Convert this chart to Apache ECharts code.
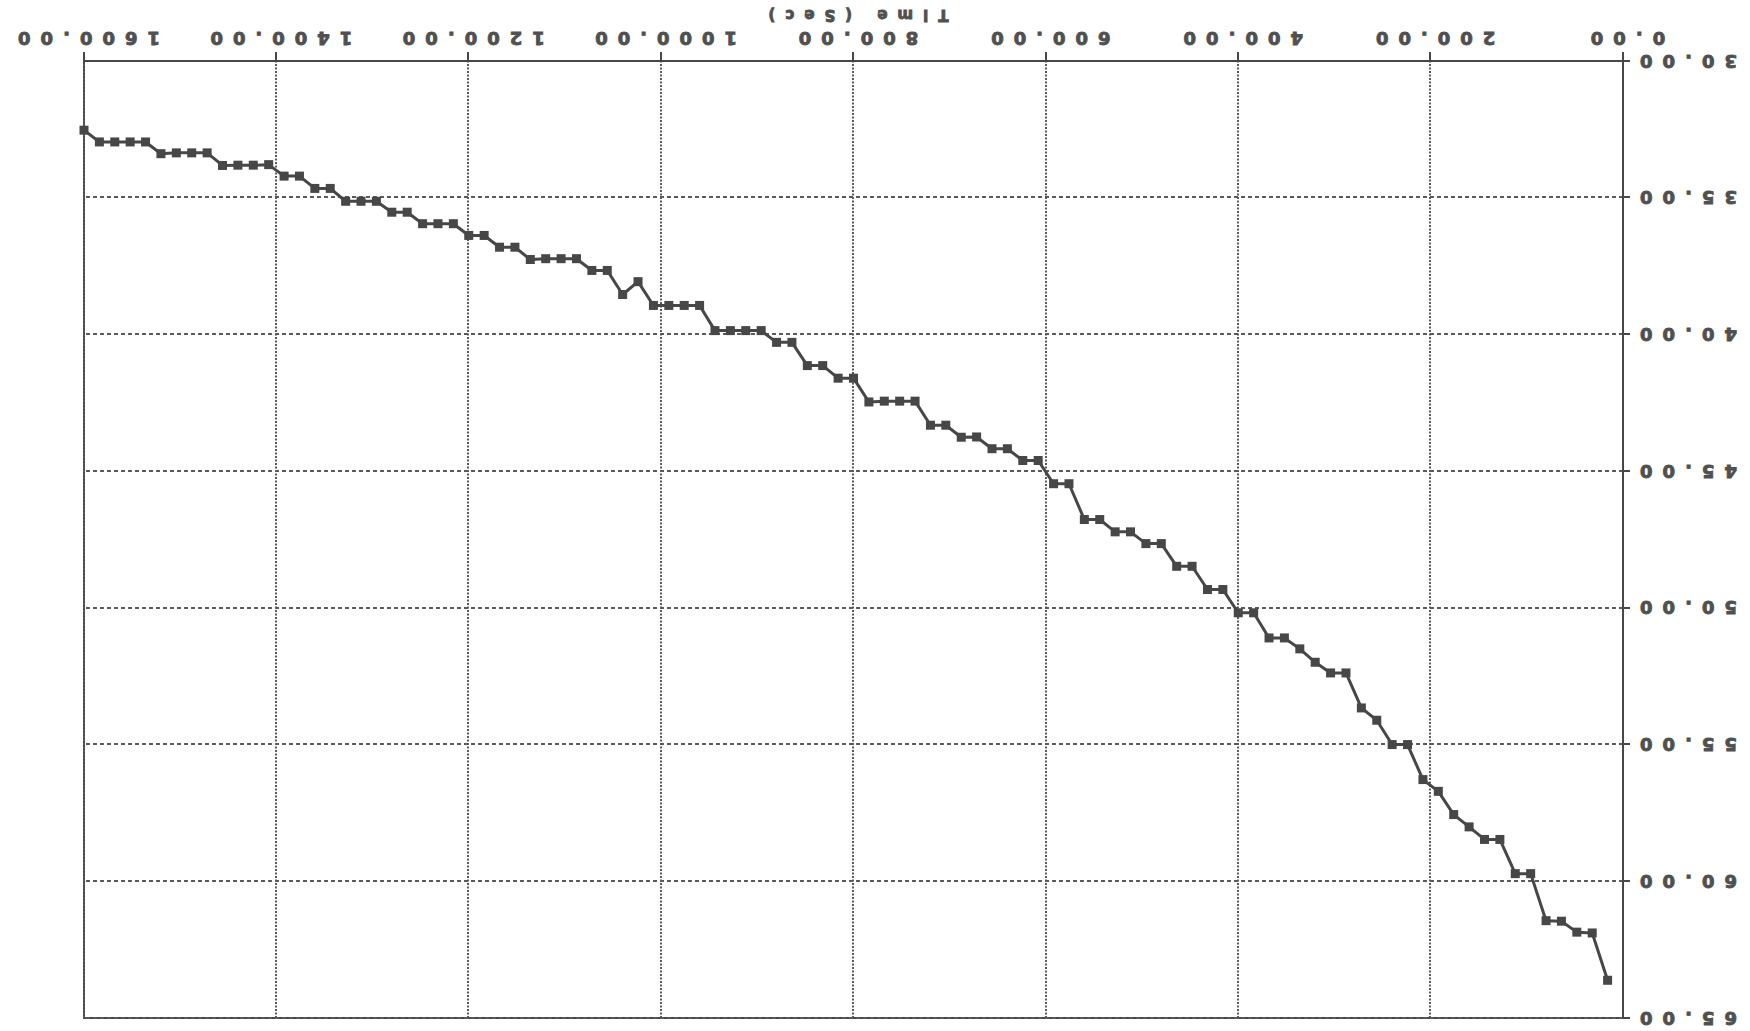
<!DOCTYPE html>
<html>
<head>
<meta charset="utf-8">
<title>Cooling curve</title>
<script src="https://cdn.jsdelivr.net/npm/echarts@6/dist/echarts.min.js"></script>
<style>
  html, body { margin: 0; padding: 0; background: #ffffff; overflow: hidden; }
  #chart {
    width: 1750px;
    height: 1031px;
    transform: rotate(180deg);
    transform-origin: 50% 50%;
  }
  /* wide, heavy, spaced-out lettering of the printed plot */
  #chart text {
    font-family: 'DejaVu Sans', sans-serif !important;
    font-weight: bold !important;
    letter-spacing: 10px;
    stroke: #505050;
    stroke-width: 0.9px;
  }
</style>
</head>
<body>
<div id="chart"></div>
<script>
// Sample times (s) and recorded temperatures
const timeSec = [
  16, 32, 48, 64, 80, 96, 112, 128, 144, 160,
  176, 192, 208, 224, 240, 256, 272, 288, 304, 320,
  336, 352, 368, 384, 400, 416, 432, 448, 464, 480,
  496, 512, 528, 544, 560, 576, 592, 608, 624, 640,
  656, 672, 688, 704, 720, 736, 752, 768, 784, 800,
  816, 832, 848, 864, 880, 896, 912, 928, 944, 960,
  976, 992, 1008, 1024, 1040, 1056, 1072, 1088, 1104, 1120,
  1136, 1152, 1168, 1184, 1200, 1216, 1232, 1248, 1264, 1280,
  1296, 1312, 1328, 1344, 1360, 1376, 1392, 1408, 1424, 1440,
  1456, 1472, 1488, 1504, 1520, 1536, 1552, 1568, 1584, 1600
];
const temperature = [
  63.62, 61.89, 61.86, 61.46, 61.44, 59.72, 59.72, 58.47, 58.47, 58.01,
  57.56, 56.71, 56.28, 55.00, 55.00, 54.11, 53.66, 52.38, 52.38, 51.99,
  51.50, 51.10, 51.10, 50.18, 50.18, 49.33, 49.33, 48.48, 48.48, 47.65,
  47.65, 47.22, 47.22, 46.77, 46.77, 45.46, 45.46, 44.61, 44.61, 44.18,
  44.18, 43.75, 43.76, 43.32, 43.32, 42.44, 42.44, 42.44, 42.47, 41.60,
  41.60, 41.14, 41.14, 40.29, 40.29, 39.86, 39.86, 39.86, 39.86, 38.94,
  38.94, 38.94, 38.94, 38.07, 38.54, 37.66, 37.66, 37.23, 37.23, 37.23,
  37.26, 36.81, 36.81, 36.38, 36.38, 35.95, 35.95, 35.95, 35.53, 35.53,
  35.13, 35.13, 35.13, 34.66, 34.66, 34.21, 34.21, 33.79, 33.81, 33.81,
  33.82, 33.36, 33.36, 33.36, 33.39, 32.96, 32.96, 32.96, 32.96, 32.53
];

// Axis tick values and their printed labels
const xTicks = [0, 200, 400, 600, 800, 1000, 1200, 1400, 1600];
const xTickLabels = ['0.00', '200.00', '400.00', '600.00', '800.00', '1000.00', '1200.00', '1400.00', '1600.00'];
const yTicks = [30, 35, 40, 45, 50, 55, 60, 65];
const yTickLabels = ['30.00', '35.00', '40.00', '45.00', '50.00', '55.00', '60.00', '65.00'];
const xAxisName = 'Time (Sec)';

const ink = '#474747';
const textInk = '#505050';
const gridInk = '#5a5a5a';
const font = 'DejaVu Sans';

function labelFor(ticks, labels) {
  return function (v) {
    const i = ticks.indexOf(v);
    return i >= 0 ? labels[i] : '';
  };
}

const chart = echarts.init(document.getElementById('chart'), null, { renderer: 'svg' });

chart.setOption({
  animation: false,
  backgroundColor: '#ffffff',
  grid: {
    left: 127, right: 84, top: 13, bottom: 61,
    show: true,
    borderColor: ink,
    borderWidth: 2,
    backgroundColor: 'transparent'
  },
  xAxis: {
    type: 'value',
    min: xTicks[0],
    max: xTicks[xTicks.length - 1],
    interval: 200,
    name: xAxisName,
    nameLocation: 'middle',
    nameGap: 39,
    nameTextStyle: { fontFamily: font, fontWeight: 'bold', fontSize: 15, color: textInk },
    axisLine: { show: true, lineStyle: { color: ink, width: 2 } },
    axisTick: { show: true, inside: false, length: 9, lineStyle: { color: ink, width: 2 } },
    axisLabel: {
      margin: 14,
      fontFamily: font, fontWeight: 'bold', fontSize: 18, color: textInk,
      formatter: labelFor(xTicks, xTickLabels)
    },
    splitLine: { show: true, lineStyle: { color: gridInk, width: 2, type: [2, 1.5] } }
  },
  yAxis: {
    type: 'value',
    min: yTicks[0],
    max: yTicks[yTicks.length - 1],
    interval: 5,
    axisLine: { show: true, lineStyle: { color: ink, width: 2 } },
    axisTick: { show: true, inside: false, length: 7, lineStyle: { color: ink, width: 2 } },
    axisLabel: {
      margin: 7,
      fontFamily: font, fontWeight: 'bold', fontSize: 18, color: textInk,
      formatter: labelFor(yTicks, yTickLabels)
    },
    splitLine: { show: true, lineStyle: { color: gridInk, width: 2, type: [4, 3] } }
  },
  series: [{
    type: 'line',
    data: timeSec.map((t, i) => [t, temperature[i]]),
    symbol: 'rect',
    symbolSize: 9,
    showSymbol: true,
    lineStyle: { color: ink, width: 3 },
    itemStyle: { color: ink },
    emphasis: { disabled: true }
  }]
});
</script>
</body>
</html>
